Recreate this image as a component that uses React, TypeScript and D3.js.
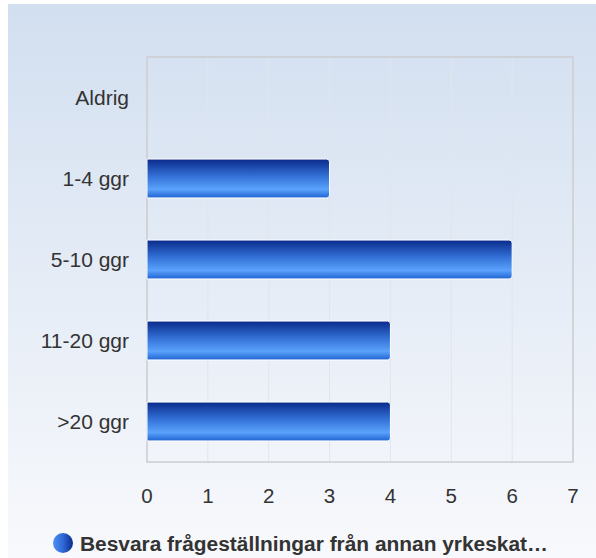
import React from "react";
import * as d3 from "d3";

const categories = ["Aldrig", "1-4 ggr", "5-10 ggr", "11-20 ggr", ">20 ggr"];
const values = [0, 3, 6, 4, 4];
const xTicks = [0, 1, 2, 3, 4, 5, 6, 7];
const seriesName = "Besvara frågeställningar från annan yrkeskat…";

const width = 596;
const height = 558;
const margin = { top: 57, left: 147, right: 23, bottom: 96 };

function App() {
  const x = d3
    .scaleLinear()
    .domain([0, 7])
    .range([margin.left, width - margin.right]);

  const y = d3
    .scaleBand()
    .domain(categories)
    .range([margin.top, height - margin.bottom])
    .paddingInner(0.52)
    .paddingOuter(0.26);

  const plotTop = margin.top;
  const plotBottom = height - margin.bottom;
  const bw = y.bandwidth();

  // bar path with rounded right end
  const barPath = (x0: number, x1: number, y0: number, h: number) => {
    const r = Math.min(3, (x1 - x0) / 2);
    return `M${x0},${y0}H${x1 - r}Q${x1},${y0} ${x1},${y0 + r}V${y0 + h - r}Q${x1},${y0 + h} ${x1 - r},${y0 + h}H${x0}Z`;
  };

  return (
    <svg
      width={width}
      height={height}
      style={{ position: "absolute", left: 0, top: 0, fontFamily: "'Liberation Sans', Arial, sans-serif" }}
    >
      <defs>
        <linearGradient id="bg" x1="0" y1="0" x2="0" y2="1">
          <stop offset="0" stopColor="#d2dff0" />
          <stop offset="1" stopColor="#f8f9fc" />
        </linearGradient>
        <linearGradient id="bar" x1="0" y1="0" x2="0" y2="1">
          <stop offset="0" stopColor="#0a2a8a" />
          <stop offset="0.45" stopColor="#3472d8" />
          <stop offset="0.78" stopColor="#5aa2fb" />
          <stop offset="1" stopColor="#1f63d2" />
        </linearGradient>
        <linearGradient id="dot" x1="0" y1="0" x2="1" y2="0">
          <stop offset="0" stopColor="#4d90f2" />
          <stop offset="0.5" stopColor="#2f68d6" />
          <stop offset="1" stopColor="#0b2b8c" />
        </linearGradient>
      </defs>

      <rect x={8} y={4} width={width - 8} height={height - 4} fill="url(#bg)" />

      {/* grid */}
      {xTicks.map(t => (
        <line
          key={"g" + t}
          x1={x(t)}
          x2={x(t)}
          y1={plotTop}
          y2={plotBottom}
          stroke="#e2e5ea"
          strokeWidth={1}
        />
      ))}
      <rect
        x={x(0)}
        y={plotTop}
        width={x(7) - x(0)}
        height={plotBottom - plotTop}
        fill="none"
        stroke="#cbcdd0"
        strokeWidth={1.5}
      />

      {/* bars */}
      {categories.map((c, i) =>
        values[i] > 0 ? (
          <path
            key={c}
            d={barPath(x(0), x(values[i]), y(c)!, bw)}
            fill="url(#bar)"
            stroke="#ffffff"
            strokeWidth={1}
          />
        ) : null
      )}

      {/* y labels */}
      {categories.map(c => (
        <text
          key={"l" + c}
          x={129}
          y={y(c)! + bw / 2}
          dy="0.35em"
          textAnchor="end"
          fontSize={21}
          fill="#333333"
        >
          {c}
        </text>
      ))}

      {/* x labels */}
      {xTicks.map(t => (
        <text key={"t" + t} x={x(t)} y={503} textAnchor="middle" fontSize={20.5} fill="#333333">
          {t}
        </text>
      ))}

      {/* legend */}
      <circle cx={63} cy={543} r={10} fill="url(#dot)" />
      <text x={80} y={550.5} fontSize={20.9} fontWeight="bold" fill="#333333">
        {seriesName}
      </text>
    </svg>
  );
}

export default App;
